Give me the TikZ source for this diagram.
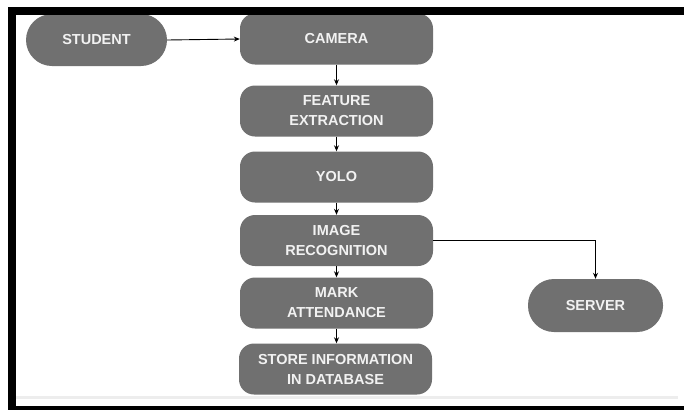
\documentclass[tikz,border=0pt]{standalone}
\usepackage{fontspec}
\setmainfont{Liberation Sans}
\usetikzlibrary{arrows.meta}
\definecolor{boxgrey}{HTML}{707070}
\definecolor{txtwhite}{HTML}{F2F2F2}
\begin{document}
\begin{tikzpicture}[x=1pt,y=-1pt,
  box/.style={fill=boxgrey,draw=none,rounded corners=15pt,minimum width=193pt,minimum height=51pt,inner sep=0pt,
    text=txtwhite,font=\fontsize{14.5}{20}\selectfont\bfseries,align=center},
  pill/.style={box,rounded corners=26pt,minimum height=52pt},
  conn/.style={draw=black,line width=0.9pt,-{Stealth[length=6pt,width=5pt]}}]
\useasboundingbox (0,0) rectangle (684,410);
\fill[white] (0,0) rectangle (684,410);
% nodes
\node[pill,minimum width=141pt] (student) at (96.5,40) {STUDENT};
\node[box] (camera) at (336.5,39) {CAMERA};
\node[box] (feature) at (336.5,111) {FEATURE\\EXTRACTION};
\node[box] (yolo) at (336.5,177) {YOLO};
\node[box] (image) at (336.5,240.5) {IMAGE\\RECOGNITION};
\node[box] (mark) at (336.5,303) {MARK\\ATTENDANCE};
\node[box] (store) at (335.5,369) {STORE INFORMATION\\IN DATABASE};
\node[pill,minimum width=135pt,minimum height=53pt] (server) at (595.5,305.5) {SERVER};
% connectors
\draw[conn] (student.east) -- (camera.west);
\draw[conn] (camera.south) -- (feature.north);
\draw[conn] (feature.south) -- (yolo.north);
\draw[conn] (yolo.south) -- (image.north);
\draw[conn] (image.south) -- (mark.north);
\draw[conn] (mark.south) -- (mark.south |- store.north);
\draw[conn] (image.east) -| (server.north);
% frame
\fill[black!7] (16,396) rectangle (678,399);
\fill[black] (8,7) rectangle (684,15);
\fill[black] (8,7) rectangle (16,410);
\fill[black] (8,406) rectangle (684,410);
\end{tikzpicture}
\end{document}
